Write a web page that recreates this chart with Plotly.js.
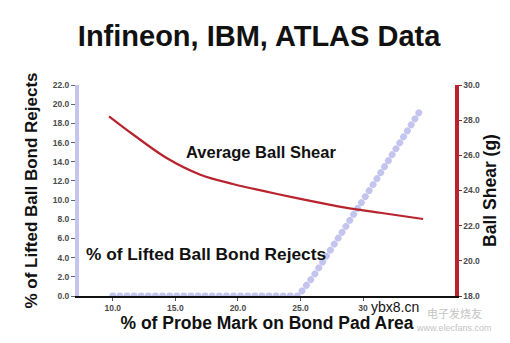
<!DOCTYPE html>
<html>
<head>
<meta charset="utf-8">
<script src="https://cdn.plot.ly/plotly-3.0.1.min.js"></script>
<style>
html,body{margin:0;padding:0;background:#fff;}
#chart{width:510px;height:343px;}
</style>
</head>
<body>
<div id="chart"></div>
<script>
// ---- data ----
const chartTitle = "Infineon, IBM, ATLAS Data";
const xTitle = "% of Probe Mark on Bond Pad Area";
const yLeftTitle = "% of Lifted Ball Bond Rejects";
const yRightTitle = "Ball Shear (g)";

// % of lifted ball bond rejects (left axis)
const rejectX = [10, 12.5, 15, 17.5, 20, 22.5, 24.8, 26, 27.5, 29.4, 31, 32.8, 34.6];
const rejectY = [0, 0, 0, 0, 0, 0, 0, 2.0, 4.9, 8.8, 12.0, 15.8, 19.4];

// average ball shear (right axis, grams)
const shearX = [9.7, 11.65, 14.3, 17, 19.6, 22.2, 24.8, 27.5, 29.2, 31.5, 34.8];
const shearY = [28.22, 27.17, 25.85, 24.9, 24.37, 23.95, 23.55, 23.17, 22.95, 22.72, 22.38];

const xTickVals = [10, 15, 20, 25, 30];
const xTickText = ["10.0", "15.0", "20.0", "25.0", "30"];
const yLeftTicks = [0, 2, 4, 6, 8, 10, 12, 14, 16, 18, 20, 22];
const yRightTicks = [18, 20, 22, 24, 26, 28, 30];

const FONT = "Liberation Sans, Arial, Helvetica, sans-serif";
const LAV = "#c3c5ee";
const RED = "#b8232d";

const traces = [
  {
    x: rejectX, y: rejectY, type: "scatter", mode: "lines",
    line: {color: LAV, width: 6.8, dash: "dot"},
    cliponaxis: false, hoverinfo: "skip", name: "rejects"
  },
  {
    x: shearX, y: shearY, type: "scatter", mode: "lines", yaxis: "y2",
    line: {color: RED, width: 2.2, shape: "spline", smoothing: 1},
    cliponaxis: false, hoverinfo: "skip", name: "shear"
  }
];

const tickFont = {family: FONT, size: 8.5, color: "#4a4a4a", weight: 700};

const layout = {
  width: 510, height: 343,
  margin: {l: 79, r: 55, t: 85, b: 47},
  paper_bgcolor: "#fff", plot_bgcolor: "#fff",
  showlegend: false,
  title: {
    text: chartTitle,
    font: {family: FONT, size: 29, color: "#111", weight: 700},
    x: 0.508, xref: "container", xanchor: "center",
    y: 1 - 36 / 343, yref: "container", yanchor: "middle"
  },
  xaxis: {
    range: [7.3, 37.35], showgrid: false, zeroline: false,
    showline: true, linecolor: "#111", linewidth: 2,
    layer: "below traces",
    tickmode: "array", tickvals: xTickVals, ticktext: xTickText,
    ticks: "outside", ticklen: 3, tickcolor: "#555", tickwidth: 1,
    tickfont: tickFont,
    title: {text: xTitle, standoff: 4, font: {family: FONT, size: 17.5, color: "#111", weight: 700}}
  },
  yaxis: {
    range: [0, 22], showgrid: false, zeroline: false,
    showline: true, linecolor: LAV, linewidth: 4,
    layer: "below traces",
    tickmode: "array", tickvals: yLeftTicks,
    ticktext: yLeftTicks.map(v => v.toFixed(1)),
    ticks: "outside", ticklen: 4, tickcolor: "#666", tickwidth: 1,
    tickfont: tickFont,
    title: {text: yLeftTitle, standoff: 12, font: {family: FONT, size: 17, color: "#111", weight: 700}}
  },
  yaxis2: {
    range: [18, 30], overlaying: "y", side: "right", anchor: "x",
    showgrid: false, zeroline: false,
    showline: true, linecolor: RED, linewidth: 3.5,
    tickmode: "array", tickvals: yRightTicks,
    ticktext: yRightTicks.map(v => v.toFixed(1)),
    ticks: "outside", ticklen: 3, tickcolor: "#8a2a2a", tickwidth: 1,
    tickfont: tickFont,
    title: {text: yRightTitle, standoff: 4, font: {family: FONT, size: 17.5, color: "#111", weight: 700}}
  },
  annotations: [
    {text: "Average Ball Shear", x: 261, y: 152, xref: "px", yref: "px",
     showarrow: false, font: {family: FONT, size: 16.5, color: "#111", weight: 700}},
    {text: "% of Lifted Ball Bond Rejects", x: 206, y: 254, xref: "px", yref: "px",
     showarrow: false, font: {family: FONT, size: 17.3, color: "#111", weight: 700}},
    {text: "ybx8.cn", x: 395, y: 307, xref: "px", yref: "px", showarrow: false,
     borderpad: 0, font: {family: FONT, size: 14, color: "#111"}},
    {text: "电子发烧友", x: 454, y: 313, xref: "px", yref: "px", showarrow: false,
     borderpad: 0, font: {family: "Noto Sans CJK SC, sans-serif", size: 11, color: "#c4c4c4"}},
    {text: "www.elecfans.com", x: 454, y: 328, xref: "px", yref: "px", showarrow: false,
     borderpad: 0, font: {family: FONT, size: 9, color: "#c4c4c4"}}
  ]
};

// convert pixel-positioned annotations to paper coords, centred on the point
const plotL = 79, plotT = 85, plotW = 510 - 79 - 55, plotH = 343 - 85 - 47;
layout.annotations.forEach(a => {
  if (a.xref === "px") { a.x = (a.x - plotL) / plotW; a.xref = "paper"; }
  if (a.yref === "px") { a.y = 1 - (a.y - plotT) / plotH; a.yref = "paper"; }
  a.xanchor = "center";
  a.yanchor = "middle";
});

Plotly.newPlot("chart", traces, layout, {staticPlot: true, displayModeBar: false}).then(gd => {
  // make the dotted reject line round dots
  const paths = gd.querySelectorAll(".scatterlayer .trace");
  if (paths.length) {
    const p = paths[0].querySelector("path.js-line");
    if (p) {
      p.style.strokeDasharray = "0.1px,7px";
      p.style.strokeLinecap = "round";
    }
  }
});
</script>
</body>
</html>
